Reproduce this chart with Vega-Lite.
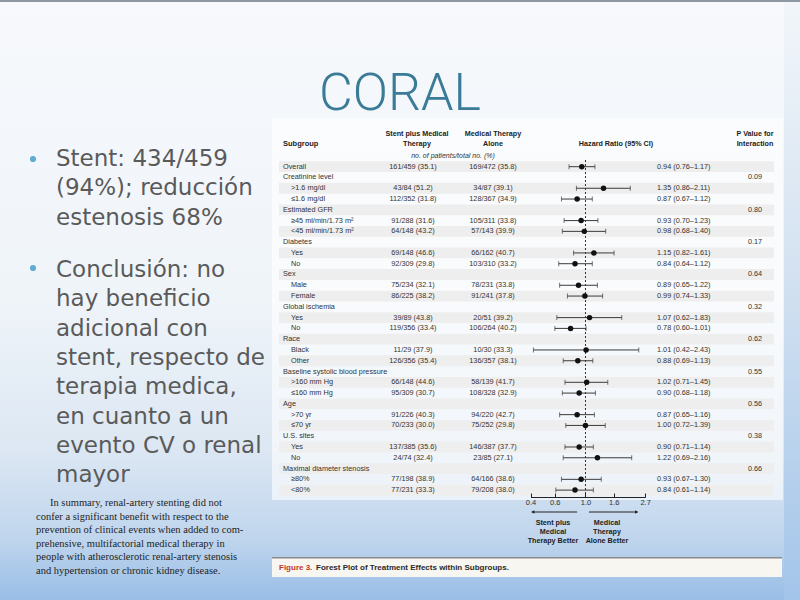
{
  "$schema": "https://vega.github.io/schema/vega-lite/v6.json",
  "width": 800,
  "height": 600,
  "autosize": {"type": "fit", "contains": "padding"},
  "padding": 0,
  "background": "#f4f7fb",
  "config": {"view": {"stroke": null}, "text": {"font": "Liberation Sans"}, "axis": {"labelFont": "Liberation Sans"}},
  "datasets": {
    "rows": [
      {"row": 1, "label": "Overall", "level": "group", "stent": "161/459 (35.1)", "med": "169/472 (35.8)", "hr": 0.94, "lo": 0.76, "hi": 1.17, "ci": "0.94 (0.76–1.17)"},
      {"row": 2, "label": "Creatinine level", "level": "group", "p": "0.09"},
      {"row": 3, "label": ">1.6 mg/dl", "level": "sub", "stent": "43/84 (51.2)", "med": "34/87 (39.1)", "hr": 1.35, "lo": 0.86, "hi": 2.11, "ci": "1.35 (0.86–2.11)"},
      {"row": 4, "label": "≤1.6 mg/dl", "level": "sub", "stent": "112/352 (31.8)", "med": "128/367 (34.9)", "hr": 0.87, "lo": 0.67, "hi": 1.12, "ci": "0.87 (0.67–1.12)"},
      {"row": 5, "label": "Estimated GFR", "level": "group", "p": "0.80"},
      {"row": 6, "label": "≥45 ml/min/1.73 m²", "level": "sub", "stent": "91/288 (31.6)", "med": "105/311 (33.8)", "hr": 0.93, "lo": 0.70, "hi": 1.23, "ci": "0.93 (0.70–1.23)"},
      {"row": 7, "label": "<45 ml/min/1.73 m²", "level": "sub", "stent": "64/148 (43.2)", "med": "57/143 (39.9)", "hr": 0.98, "lo": 0.68, "hi": 1.40, "ci": "0.98 (0.68–1.40)"},
      {"row": 8, "label": "Diabetes", "level": "group", "p": "0.17"},
      {"row": 9, "label": "Yes", "level": "sub", "stent": "69/148 (46.6)", "med": "66/162 (40.7)", "hr": 1.15, "lo": 0.82, "hi": 1.61, "ci": "1.15 (0.82–1.61)"},
      {"row": 10, "label": "No", "level": "sub", "stent": "92/309 (29.8)", "med": "103/310 (33.2)", "hr": 0.84, "lo": 0.64, "hi": 1.12, "ci": "0.84 (0.64–1.12)"},
      {"row": 11, "label": "Sex", "level": "group", "p": "0.64"},
      {"row": 12, "label": "Male", "level": "sub", "stent": "75/234 (32.1)", "med": "78/231 (33.8)", "hr": 0.89, "lo": 0.65, "hi": 1.22, "ci": "0.89 (0.65–1.22)"},
      {"row": 13, "label": "Female", "level": "sub", "stent": "86/225 (38.2)", "med": "91/241 (37.8)", "hr": 0.99, "lo": 0.74, "hi": 1.33, "ci": "0.99 (0.74–1.33)"},
      {"row": 14, "label": "Global ischemia", "level": "group", "p": "0.32"},
      {"row": 15, "label": "Yes", "level": "sub", "stent": "39/89 (43.8)", "med": "20/51 (39.2)", "hr": 1.07, "lo": 0.62, "hi": 1.83, "ci": "1.07 (0.62–1.83)"},
      {"row": 16, "label": "No", "level": "sub", "stent": "119/356 (33.4)", "med": "106/264 (40.2)", "hr": 0.78, "lo": 0.60, "hi": 1.01, "ci": "0.78 (0.60–1.01)"},
      {"row": 17, "label": "Race", "level": "group", "p": "0.62"},
      {"row": 18, "label": "Black", "level": "sub", "stent": "11/29 (37.9)", "med": "10/30 (33.3)", "hr": 1.01, "lo": 0.42, "hi": 2.43, "ci": "1.01 (0.42–2.43)"},
      {"row": 19, "label": "Other", "level": "sub", "stent": "126/356 (35.4)", "med": "136/357 (38.1)", "hr": 0.88, "lo": 0.69, "hi": 1.13, "ci": "0.88 (0.69–1.13)"},
      {"row": 20, "label": "Baseline systolic blood pressure", "level": "group", "p": "0.55"},
      {"row": 21, "label": ">160 mm Hg", "level": "sub", "stent": "66/148 (44.6)", "med": "58/139 (41.7)", "hr": 1.02, "lo": 0.71, "hi": 1.45, "ci": "1.02 (0.71–1.45)"},
      {"row": 22, "label": "≤160 mm Hg", "level": "sub", "stent": "95/309 (30.7)", "med": "108/328 (32.9)", "hr": 0.90, "lo": 0.68, "hi": 1.18, "ci": "0.90 (0.68–1.18)"},
      {"row": 23, "label": "Age", "level": "group", "p": "0.56"},
      {"row": 24, "label": ">70 yr", "level": "sub", "stent": "91/226 (40.3)", "med": "94/220 (42.7)", "hr": 0.87, "lo": 0.65, "hi": 1.16, "ci": "0.87 (0.65–1.16)"},
      {"row": 25, "label": "≤70 yr", "level": "sub", "stent": "70/233 (30.0)", "med": "75/252 (29.8)", "hr": 1.00, "lo": 0.72, "hi": 1.39, "ci": "1.00 (0.72–1.39)"},
      {"row": 26, "label": "U.S. sites", "level": "group", "p": "0.38"},
      {"row": 27, "label": "Yes", "level": "sub", "stent": "137/385 (35.6)", "med": "146/387 (37.7)", "hr": 0.90, "lo": 0.71, "hi": 1.14, "ci": "0.90 (0.71–1.14)"},
      {"row": 28, "label": "No", "level": "sub", "stent": "24/74 (32.4)", "med": "23/85 (27.1)", "hr": 1.22, "lo": 0.69, "hi": 2.16, "ci": "1.22 (0.69–2.16)"},
      {"row": 29, "label": "Maximal diameter stenosis", "level": "group", "p": "0.66"},
      {"row": 30, "label": "≥80%", "level": "sub", "stent": "77/198 (38.9)", "med": "64/166 (38.6)", "hr": 0.93, "lo": 0.67, "hi": 1.30, "ci": "0.93 (0.67–1.30)"},
      {"row": 31, "label": "<80%", "level": "sub", "stent": "77/231 (33.3)", "med": "79/208 (38.0)", "hr": 0.84, "lo": 0.61, "hi": 1.14, "ci": "0.84 (0.61–1.14)"}
    ]
  },
  "data": {"name": "rows"},
  "layer": [
    {"data": {"values": [{}]}, "mark": {"type": "rect", "x": 0, "x2": 800, "y": 0, "y2": 600, "fill": {"gradient": "linear", "x1": 0, "y1": 0, "x2": 0, "y2": 1, "stops": [{"offset": 0, "color": "#f7f9fc"}, {"offset": 0.5, "color": "#eff4f9"}, {"offset": 0.75, "color": "#dce7f3"}, {"offset": 0.9, "color": "#bfd5ed"}, {"offset": 1, "color": "#98bde6"}]}}},
    {"data": {"values": [{}]}, "mark": {"type": "rect", "x": 784, "x2": 800, "y": 0, "y2": 600, "fill": {"gradient": "linear", "x1": 0, "y1": 0, "x2": 0, "y2": 1, "stops": [{"offset": 0, "color": "#f2f6fa"}, {"offset": 0.45, "color": "#d4e2f1"}, {"offset": 1, "color": "#a3c5ea"}]}}},
    {"data": {"values": [{}]}, "mark": {"type": "rect", "x": 0, "x2": 800, "y": 0, "y2": 2, "fill": "#8f99a3"}},
    {"data": {"values": [{}]}, "mark": {"type": "rect", "x": 272, "x2": 783, "y": 118, "y2": 500, "fill": "#ffffff", "opacity": 0.6}},
    {
      "transform": [{"filter": "datum.row % 2 == 1"}],
      "mark": {"type": "rect", "x": 279, "x2": 774, "fill": "#eeeeee"},
      "encoding": {"y": {"field": "row", "type": "ordinal", "axis": null, "scale": {"type": "band", "range": [161.3, 495.5], "paddingInner": 0, "paddingOuter": 0}}}
    },
    {
      "data": {"values": [{}]},
      "mark": {"type": "rule", "color": "#333333", "strokeDash": [2, 2], "strokeWidth": 1},
      "encoding": {"x": {"datum": 1, "type": "quantitative"}, "y": {"value": 160}, "y2": {"value": 497}}
    },
    {
      "transform": [{"filter": "isValid(datum.hr)"}],
      "mark": {"type": "rule", "color": "#3a3a3a", "strokeWidth": 1},
      "encoding": {
        "x": {"field": "lo", "type": "quantitative", "title": null, "scale": {"type": "log", "domain": [0.4, 2.7], "range": [530.5, 645.1], "nice": false},
          "axis": {"values": [0.4, 0.6, 1, 1.6, 2.7], "format": ".1f", "offset": -103, "zindex": 2, "grid": false, "domainColor": "#222222", "tickColor": "#222222", "tickSize": -4, "labelPadding": 5, "labelFontSize": 7.5, "labelColor": "#333333", "labelFlush": false, "title": null}},
        "x2": {"field": "hi"},
        "y": {"field": "row", "type": "ordinal", "axis": null}
      }
    },
    {
      "transform": [{"filter": "isValid(datum.hr)"}],
      "mark": {"type": "tick", "color": "#3a3a3a", "size": 5, "thickness": 1},
      "encoding": {"x": {"field": "lo", "type": "quantitative"}, "y": {"field": "row", "type": "ordinal", "axis": null}}
    },
    {
      "transform": [{"filter": "isValid(datum.hr)"}],
      "mark": {"type": "tick", "color": "#3a3a3a", "size": 5, "thickness": 1},
      "encoding": {"x": {"field": "hi", "type": "quantitative"}, "y": {"field": "row", "type": "ordinal", "axis": null}}
    },
    {
      "transform": [{"filter": "isValid(datum.hr)"}],
      "mark": {"type": "point", "filled": true, "color": "#111111", "size": 30, "opacity": 1},
      "encoding": {"x": {"field": "hr", "type": "quantitative"}, "y": {"field": "row", "type": "ordinal", "axis": null}}
    },
    {
      "transform": [{"filter": "datum.level == 'group'"}],
      "mark": {"type": "text", "align": "left", "baseline": "middle", "fontSize": 7.3, "color": "#333333"},
      "encoding": {"x": {"value": 283}, "y": {"field": "row", "type": "ordinal", "axis": null}, "text": {"field": "label"}}
    },
    {
      "transform": [{"filter": "datum.level == 'sub'"}],
      "mark": {"type": "text", "align": "left", "baseline": "middle", "fontSize": 7.3, "color": "#333333"},
      "encoding": {"x": {"value": 291}, "y": {"field": "row", "type": "ordinal", "axis": null}, "text": {"field": "label"}}
    },
    {
      "transform": [{"filter": "isValid(datum.stent)"}],
      "mark": {"type": "text", "align": "center", "baseline": "middle", "fontSize": 7.3, "color": "#333333"},
      "encoding": {"x": {"value": 413}, "y": {"field": "row", "type": "ordinal", "axis": null}, "text": {"field": "stent"}}
    },
    {
      "transform": [{"filter": "isValid(datum.med)"}],
      "mark": {"type": "text", "align": "center", "baseline": "middle", "fontSize": 7.3, "color": "#333333"},
      "encoding": {"x": {"value": 493}, "y": {"field": "row", "type": "ordinal", "axis": null}, "text": {"field": "med"}}
    },
    {
      "transform": [{"filter": "isValid(datum.ci)"}],
      "mark": {"type": "text", "align": "left", "baseline": "middle", "fontSize": 7.3, "color": "#333333"},
      "encoding": {"x": {"value": 657}, "y": {"field": "row", "type": "ordinal", "axis": null}, "text": {"field": "ci"}}
    },
    {
      "transform": [{"filter": "isValid(datum.p)"}],
      "mark": {"type": "text", "align": "center", "baseline": "middle", "fontSize": 7.3, "color": "#333333"},
      "encoding": {"x": {"value": 755}, "y": {"field": "row", "type": "ordinal", "axis": null}, "text": {"field": "p"}}
    },
    {"data": {"values": [{}]}, "mark": {"type": "text", "x": 283, "y": 143.5, "align": "left", "baseline": "middle", "fontSize": 7.5, "fontWeight": "bold", "color": "#222222", "text": "Subgroup"}},
    {"data": {"values": [{}]}, "mark": {"type": "text", "x": 417, "y": 134, "align": "center", "baseline": "middle", "fontSize": 7.2, "fontWeight": "bold", "color": "#222222", "lineHeight": 9.5, "text": ["Stent plus Medical", "Therapy"]}},
    {"data": {"values": [{}]}, "mark": {"type": "text", "x": 493, "y": 134, "align": "center", "baseline": "middle", "fontSize": 7.2, "fontWeight": "bold", "color": "#222222", "lineHeight": 9.5, "text": ["Medical Therapy", "Alone"]}},
    {"data": {"values": [{}]}, "mark": {"type": "text", "x": 453, "y": 156, "align": "center", "baseline": "middle", "fontSize": 7, "fontStyle": "italic", "color": "#333333", "text": "no. of patients/total no. (%)"}},
    {"data": {"values": [{}]}, "mark": {"type": "text", "x": 616, "y": 144, "align": "center", "baseline": "middle", "fontSize": 7.2, "fontWeight": "bold", "color": "#222222", "text": "Hazard Ratio (95% CI)"}},
    {"data": {"values": [{}]}, "mark": {"type": "text", "x": 755, "y": 134, "align": "center", "baseline": "middle", "fontSize": 7.2, "fontWeight": "bold", "color": "#222222", "lineHeight": 9.5, "text": ["P Value for", "Interaction"]}},
    {
      "data": {"values": [{}]},
      "mark": {"type": "rule", "color": "#222222", "strokeWidth": 1},
      "encoding": {"x": {"datum": 0.87, "type": "quantitative"}, "x2": {"datum": 0.415}, "y": {"value": 512}}
    },
    {
      "data": {"values": [{}]},
      "mark": {"type": "rule", "color": "#222222", "strokeWidth": 1},
      "encoding": {"x": {"datum": 1.06, "type": "quantitative"}, "x2": {"datum": 2.35}, "y": {"value": 512}}
    },
    {
      "data": {"values": [{}]},
      "mark": {"type": "point", "shape": "triangle-left", "filled": true, "color": "#222222", "size": 14, "opacity": 1},
      "encoding": {"x": {"datum": 0.415, "type": "quantitative"}, "y": {"value": 512}}
    },
    {
      "data": {"values": [{}]},
      "mark": {"type": "point", "shape": "triangle-right", "filled": true, "color": "#222222", "size": 14, "opacity": 1},
      "encoding": {"x": {"datum": 2.35, "type": "quantitative"}, "y": {"value": 512}}
    },
    {"data": {"values": [{}]}, "mark": {"type": "text", "x": 553, "y": 523, "align": "center", "baseline": "middle", "fontSize": 7.2, "fontWeight": "bold", "color": "#222222", "lineHeight": 9, "text": ["Stent plus", "Medical", "Therapy Better"]}},
    {"data": {"values": [{}]}, "mark": {"type": "text", "x": 607, "y": 523, "align": "center", "baseline": "middle", "fontSize": 7.2, "fontWeight": "bold", "color": "#222222", "lineHeight": 9, "text": ["Medical", "Therapy", "Alone Better"]}},
    {"data": {"values": [{}]}, "mark": {"type": "rect", "x": 272, "x2": 782, "y": 558, "y2": 577, "fill": "#f8f6f1"}},
    {"data": {"values": [{}]}, "mark": {"type": "rect", "x": 272, "x2": 782, "y": 557, "y2": 558.5, "fill": "#8a8a8a"}},
    {"data": {"values": [{}]}, "mark": {"type": "text", "x": 279, "y": 568, "align": "left", "baseline": "middle", "fontSize": 8, "color": "#c0392b", "fontWeight": "bold", "text": "Figure 3."}},
    {"data": {"values": [{}]}, "mark": {"type": "text", "x": 316, "y": 568, "align": "left", "baseline": "middle", "fontSize": 8, "color": "#2a2a2a", "fontWeight": "bold", "text": "Forest Plot of Treatment Effects within Subgroups."}},
    {"data": {"values": [{}]}, "mark": {"type": "text", "x": 400, "y": 110, "align": "center", "baseline": "alphabetic", "fontSize": 52, "font": "Roboto", "fontWeight": 300, "color": "#3a7b97", "text": "CORAL"}},
    {"data": {"values": [{}]}, "mark": {"type": "circle", "x": 33, "y": 159, "size": 38, "color": "#62abd4", "opacity": 1}},
    {"data": {"values": [{}]}, "mark": {"type": "circle", "x": 33, "y": 268, "size": 38, "color": "#62abd4", "opacity": 1}},
    {"data": {"values": [{}]}, "mark": {"type": "text", "x": 56, "y": 159, "align": "left", "baseline": "middle", "fontSize": 23, "font": "DejaVu Sans", "color": "#5a5a5a", "lineHeight": 29.3, "text": ["Stent: 434/459", "(94%); reducción", "estenosis 68%"]}},
    {"data": {"values": [{}]}, "mark": {"type": "text", "x": 56, "y": 270, "align": "left", "baseline": "middle", "fontSize": 23, "font": "DejaVu Sans", "color": "#5a5a5a", "lineHeight": 29.3, "text": ["Conclusión: no", "hay beneficio", "adicional con", "stent, respecto de", "terapia medica,", "en cuanto a un", "evento CV o renal", "mayor"]}},
    {"data": {"values": [{}]}, "mark": {"type": "text", "x": 50, "y": 503, "align": "left", "baseline": "middle", "fontSize": 10.5, "font": "Liberation Serif", "color": "#1e1e1e", "text": "In summary, renal-artery stenting did not"}},
    {"data": {"values": [{}]}, "mark": {"type": "text", "x": 36, "y": 516.5, "align": "left", "baseline": "middle", "fontSize": 10.5, "font": "Liberation Serif", "color": "#1e1e1e", "lineHeight": 13.5, "text": ["confer a significant benefit with respect to the", "prevention of clinical events when added to com-", "prehensive, multifactorial medical therapy in", "people with atherosclerotic renal-artery stenosis", "and hypertension or chronic kidney disease."]}}
  ]
}
